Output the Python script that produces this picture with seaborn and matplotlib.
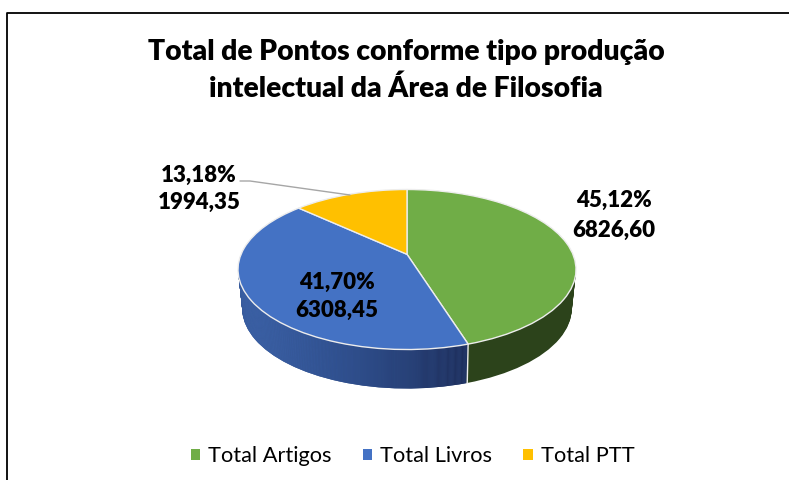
import numpy as np
import matplotlib
matplotlib.use('Agg')

import matplotlib.pyplot as plt
import seaborn as sns
from matplotlib.colors import LinearSegmentedColormap
from matplotlib.lines import Line2D
from matplotlib.transforms import Affine2D, Transform

# =========================
# DATA
# =========================
categories = ["Total Artigos", "Total Livros", "Total PTT"]
values = [6826.60, 6308.45, 1994.35]
title_lines = ["Total de Pontos conforme tipo produção",
               "intelectual da Área de Filosofia"]

# =========================
# STYLE
# =========================
sns.set_theme(style="white")
plt.rcParams['font.family'] = ['Lato', 'DejaVu Sans']

face_colors = sns.color_palette(["#70AD47", "#4472C4", "#FFC000"])
wall_colors = sns.color_palette(["#2C431B", "#2F4D85", "#A67C00"])
blue_wall = LinearSegmentedColormap.from_list("blue_wall", ["#4169B2", "#2F4F8E", "#1E2E5B"])

W, H = 789, 480
CX, CY, RX, RY = 407, 269.5, 169, 80
DEPTH = 39 / RY
TILT = 0.19


class Perspective(Transform):
    # tilted disc: circle stays a circle, but the centre moves up
    input_dims = 2
    output_dims = 2

    def transform_non_affine(self, xy):
        xy = np.asarray(xy, dtype=float)
        d = 1 + TILT * xy[:, 1]
        s = np.sqrt(1 - TILT ** 2)
        return np.column_stack([s * xy[:, 0] / d, (xy[:, 1] + TILT) / d])


def fx(px):
    return px / W


def fy(py):
    return 1 - py / H


fig = plt.figure(figsize=(W / 100, H / 100), dpi=100, facecolor="white")
ax = fig.add_axes([0, 0, 1, 1])
proj = Perspective()
xlim = (-CX / RX, (W - CX) / RX)
ylim = (-(H - CY) / RY, CY / RY)

# =========================
# SIDE WALL
# =========================
offsets = np.linspace(DEPTH, 0, 40)[:-1]
gradient = np.linspace(0, 1, 256).reshape(1, -1)
for i, off in enumerate(offsets):
    shrink = 1 - 0.025 * off / DEPTH
    wedges, _ = ax.pie(values, colors=wall_colors, startangle=90, counterclock=False,
                       wedgeprops={"linewidth": 0})
    for w in wedges:
        w.set_transform(proj + Affine2D().scale(shrink, 1).translate(0, -off) + ax.transData)
        w.set_zorder(i + 1)
    im = ax.imshow(gradient, cmap=blue_wall, extent=(-1, 0.36, -2, 2), aspect="auto", zorder=i + 1.5)
    im.set_clip_path(wedges[1])

# =========================
# TOP FACE
# =========================
top_wedges, _ = ax.pie(values, colors=face_colors, startangle=90, counterclock=False,
                       wedgeprops={"linewidth": 1.0, "edgecolor": "#EDEDED"})
for w in top_wedges:
    w.set_transform(proj + ax.transData)
    w.set_zorder(100)

# separator between the walls of green and blue
angle = np.pi / 2 - 2 * np.pi * values[0] / sum(values)
bx, by = proj.transform(np.array([[np.cos(angle), np.sin(angle)]]))[0]
ax.plot([bx, bx * 0.985], [by, by - DEPTH], color="#EDEDED", lw=1.0, zorder=99)

ax.set_aspect("auto")
ax.set_xlim(*xlim)
ax.set_ylim(*ylim)
ax.set_xticks([])
ax.set_yticks([])
ax.axis("off")

# =========================
# TEXT
# =========================
fig.text(fx(406), fy(52), title_lines[0], ha="center", va="center", fontsize=20.3, fontweight="heavy", color="black")
fig.text(fx(406), fy(89), title_lines[1], ha="center", va="center", fontsize=20.3, fontweight="heavy", color="black")

total = sum(values)
label_pos = [(614, 200, 230), (337, 282, 310), (199, 175, 202)]
for v, (x, y1, y2) in zip(values, label_pos):
    pct = f"{v / total * 100:.2f}%".replace(".", ",")
    val = f"{v:.2f}".replace(".", ",")
    fig.text(fx(x), fy(y1), pct, ha="center", va="center", fontsize=16, fontweight="heavy", color="black", zorder=200)
    fig.text(fx(x), fy(y2), val, ha="center", va="center", fontsize=16, fontweight="heavy", color="black", zorder=200)

# leader line of the small slice
fig.add_artist(Line2D([fx(240), fx(250), fx(350)], [fy(181), fy(181), fy(195)],
                      color="#A6A6A6", lw=1.0))

# chart frame, only left and top are inside the crop
fig.add_artist(Line2D([fx(7), fx(7), fx(W)], [fy(H), fy(13), fy(13)], color="black", lw=1.3))

leg = fig.legend(top_wedges, categories, ncol=3, loc="center", bbox_to_anchor=(fx(412.5), fy(456)),
                 frameon=False, fontsize=15.7, handlelength=0.42, handleheight=0.42,
                 handletextpad=0.36, columnspacing=1.45, labelcolor="black")
for h in leg.legend_handles:
    h.set_linewidth(0)

fig.savefig("out.png", dpi=100)
